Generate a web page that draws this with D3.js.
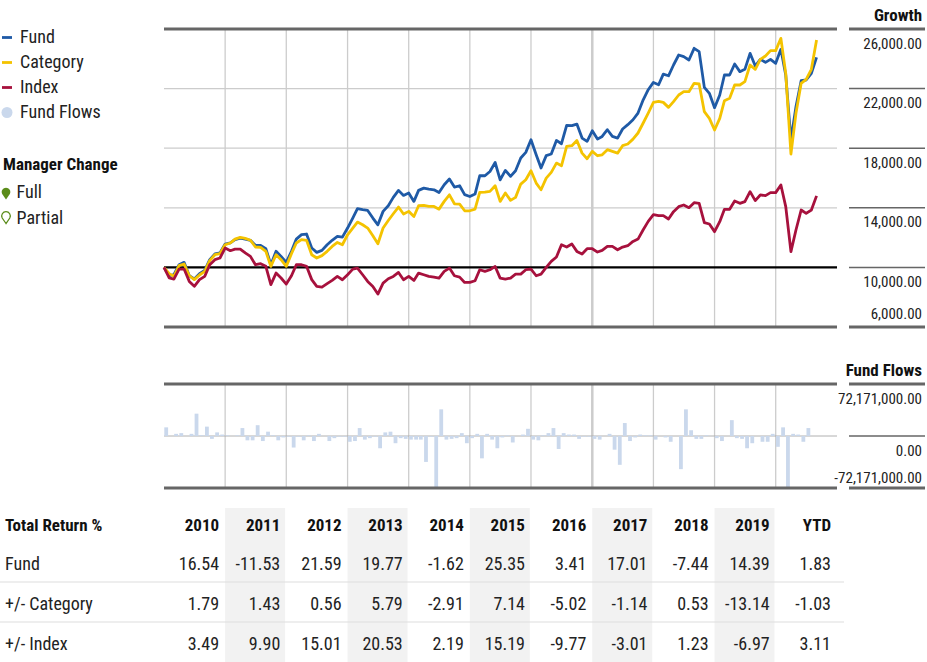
<!DOCTYPE html>
<html><head><meta charset="utf-8">
<script src="https://cdn.jsdelivr.net/npm/d3@7"></script>
<style>
body{margin:0;background:#fff;}
svg{display:block;font-family:"Liberation Sans Narrow","Arial Narrow","Roboto Condensed",Roboto,sans-serif;}
</style></head><body>
<svg id="c" width="927" height="662"></svg>
<script>
// ---------- DATA ----------
const startYear = 2010; // first monthly point = Jan 2010
const fundGrowth = [
10000,9440,9510,10180,10340,9440,9220,9580,9800,10520,10900,10970,
11570,11640,11860,11970,11900,11820,11480,11480,11260,10180,11080,10740,
10340,11080,11900,12200,12240,11300,11010,11140,11520,11820,12080,12030,
12640,13310,13940,13870,13820,13310,12860,13760,14140,14700,15170,14830,
14990,14430,15170,15320,15250,15210,15030,15550,15930,15390,15480,14880,
14760,14920,16150,16150,16440,17040,15880,16510,16110,16490,17340,17720,
18570,17560,16670,17500,17610,18520,18300,19530,19510,19620,18680,18460,
19170,18610,18790,19240,18790,18680,19285,19580,19910,20360,21250,21925,
22415,22260,22975,22860,23584,24255,24143,23920,24703,24479,22085,21683,
20721,21571,22913,22913,23651,23137,23293,24367,23517,23964,23763,23964,
23696,24636,22913,18551,20788,22533,22578,23025,24099];
const categoryGrowth = [
10000,9580,9400,10120,10230,9440,9180,9490,9735,10450,10850,10920,
11520,11640,11900,12020,11950,11820,11370,11350,11080,10070,10850,10520,
10070,10920,11640,11860,11820,10850,10630,10790,11080,11410,11676,11520,
12190,12640,13040,12860,12640,12120,11590,12640,13150,13600,14050,13580,
13760,13420,14140,14160,14090,14090,13910,14430,14870,14270,14250,13800,
13800,13910,15030,15050,15100,15480,14430,14990,14500,14700,15590,15885,
16490,15660,15210,15995,16380,17000,16820,18120,18170,18520,17670,17290,
17785,17495,17560,17900,17785,17670,18170,18280,18610,19020,19690,20360,
21075,21140,21075,20740,21123,21571,21795,21795,22354,22309,20452,20005,
19222,20005,21191,21347,22242,22242,22466,23584,23293,23964,24188,24546,
24546,25374,23025,17612,20341,22354,22622,23293,25262];
const indexGrowth = [
10000,9290,9220,9890,9890,9060,8730,9180,9400,10180,10520,10630,
11300,11120,11230,11230,10970,10740,10180,10250,10070,8840,9620,9290,
8880,9440,10180,10180,10070,9180,8730,8680,8910,9130,9394,9170,
9506,9886,9953,9506,9058,8723,8208,8946,9237,9394,9663,9170,
9394,9125,9618,9506,9394,9349,9282,9730,9953,9439,9349,8991,
8991,9103,9841,9730,9841,10065,9282,9220,9285,9550,9550,9845,
9890,9440,9550,10000,10400,10695,11520,11365,11570,11075,10895,11255,
11255,11030,11140,11410,11410,11185,11365,11455,11745,11900,12530,13090,
13535,13470,13470,13245,13741,14077,14189,14010,14346,14301,13003,12914,
12399,13070,13898,13898,14457,14301,14413,15084,14480,14860,14815,15017,
15017,15531,14077,11057,12511,13853,13630,13853,14800];
// monthly fund flows, millions
const fundFlows = [
12,0,3,4,0,3,31,1,13,-4,5,2,
1,0,1,11,-6,-6,15,-7,6,1,-6,-2,
-1,-16,-1,-6,1,-7,3,0,-7,-3,-1,-1,
-8,-7,11,-5,-3,-1,-17,5,6,-10,-3,-4,
-5,-5,-5,-36,-1,-71,37,-5,-4,-3,4,-10,
-3,3,-31,3,-5,-17,-2,1,-9,0,2,10,
-5,-6,1,4,11,-18,4,2,2,-4,-1,-1,
-4,-5,0,3,-19,-40,18,-7,-2,2,1,1,
-5,0,-2,-8,0,-46,37,8,-4,-4,1,0,
-3,-7,0,22,-3,-4,-17,-10,0,-8,-8,3,
-15,12,-72,3,2,-8,11,0,0];
const growthTicks = [26000,22000,18000,14000,10000,6000];
const flowTicks = [72171000,0,-72171000];
const legendItems = ["Fund","Category","Index","Fund Flows"];
const tableYears = ["2010","2011","2012","2013","2014","2015","2016","2017","2018","2019","YTD"];
const fundReturns = ["16.54","-11.53","21.59","19.77","-1.62","25.35","3.41","17.01","-7.44","14.39","1.83"];
const categoryDiff = ["1.79","1.43","0.56","5.79","-2.91","7.14","-5.02","-1.14","0.53","-13.14","-1.03"];
const indexDiff = ["3.49","9.90","15.01","20.53","2.19","15.19","-9.77","-3.01","1.23","-6.97","3.11"];

// ---------- STYLE ----------
const C = {fund:"#1f5aa6", cat:"#f4c300", idx:"#a7113d", flow:"#cad8ec", grid:"#cccccc", dark:"#666666", text:"#222", green:"#5b8c1a"};
const svg = d3.select("#c");
const L = 164, R = 837;
const x = d3.scaleTime().domain([new Date(startYear,0,1), new Date(2021,0,1)]).range([L,R]);
const y = d3.scaleLinear().domain([6000,26000]).range([327,29]);
const yF = d3.scaleLinear().domain([-72171000,72171000]).range([488,384]);
const mDate = i => new Date(startYear, i, 1);
const yearBounds = d3.range(2011, 2021).map(yr => new Date(yr,0,1));

// ---------- GROWTH CHART ----------
const g = svg.append("g");
g.selectAll(".vg").data(yearBounds).join("line")
  .attr("x1",d=>x(d)).attr("x2",d=>x(d)).attr("y1",y(26000)).attr("y2",y(6000))
  .attr("stroke",C.grid).attr("stroke-width",d=>d.getFullYear()===2017?2.5:1.3);
g.selectAll(".hg").data([22000,18000,14000]).join("line")
  .attr("x1",L).attr("x2",R).attr("y1",d=>y(d)).attr("y2",d=>y(d))
  .attr("stroke",C.grid).attr("stroke-width",1.3);
g.selectAll(".bd").data([26000,6000]).join("line")
  .attr("x1",L).attr("x2",R).attr("y1",d=>y(d)).attr("y2",d=>y(d))
  .attr("stroke",C.dark).attr("stroke-width",3);
g.append("line").attr("x1",L).attr("x2",R).attr("y1",y(10000)).attr("y2",y(10000))
  .attr("stroke","#000").attr("stroke-width",2.2);

const line = d3.line().x((d,i)=>x(mDate(i))).y(d=>y(d));
[[fundGrowth,C.fund],[categoryGrowth,C.cat],[indexGrowth,C.idx]].forEach(([data,col])=>{
  g.append("path").datum(data).attr("d",line).attr("fill","none")
   .attr("stroke",col).attr("stroke-width",2.8).attr("stroke-linejoin","round");
});

const ax = svg.append("g");
ax.selectAll("line").data(growthTicks).join("line")
  .attr("x1",849).attr("x2",925).attr("y1",d=>y(d)).attr("y2",d=>y(d))
  .attr("stroke",C.dark).attr("stroke-width",d=>(d===26000||d===6000)?3:1.5);
ax.selectAll("text").data(growthTicks).join("text")
  .attr("x",922).attr("y",d=>d===6000? y(d)-8.5 : y(d)+19.5)
  .attr("text-anchor","end").attr("font-size",15).attr("fill",C.text)
  .text(d=>d3.format(",.2f")(d));
svg.append("text").attr("x",922).attr("y",20.5).attr("text-anchor","end")
  .attr("font-size",17).attr("font-weight","bold").attr("fill","#111").text("Growth");

// ---------- FUND FLOWS ----------
const f = svg.append("g");
f.selectAll(".vg").data(yearBounds).join("line")
  .attr("x1",d=>x(d)).attr("x2",d=>x(d)).attr("y1",yF(72171000)).attr("y2",yF(-72171000))
  .attr("stroke",C.grid).attr("stroke-width",d=>d.getFullYear()===2017?2.5:1.3);
f.append("line").attr("x1",L).attr("x2",R).attr("y1",yF(0)).attr("y2",yF(0))
  .attr("stroke","#b0b0b0").attr("stroke-width",1);
f.selectAll("rect").data(fundFlows).join("rect")
  .attr("x",(d,i)=>x(mDate(i))+0.3).attr("width",3.8)
  .attr("y",d=>yF(Math.max(0,d*1e6))).attr("height",d=>Math.abs(yF(d*1e6)-yF(0)))
  .attr("fill",C.flow);
f.selectAll(".bd").data([72171000,-72171000]).join("line")
  .attr("x1",L).attr("x2",R).attr("y1",d=>yF(d)).attr("y2",d=>yF(d))
  .attr("stroke",C.dark).attr("stroke-width",3);
const fa = svg.append("g");
fa.selectAll("line").data(flowTicks).join("line")
  .attr("x1",849).attr("x2",925).attr("y1",d=>yF(d)).attr("y2",d=>yF(d))
  .attr("stroke",C.dark).attr("stroke-width",d=>d===0?1.5:3);
fa.selectAll("text").data(flowTicks).join("text")
  .attr("x",922).attr("y",d=>d<0? yF(d)-5 : yF(d)+19.5)
  .attr("text-anchor","end").attr("font-size",15).attr("fill",C.text)
  .text(d=>d3.format(",.2f")(d).replace("−","-"));
svg.append("text").attr("x",922).attr("y",376).attr("text-anchor","end")
  .attr("font-size",17).attr("font-weight","bold").attr("fill","#111").text("Fund Flows");

// ---------- LEGEND ----------
const lg = svg.append("g");
const legCols = [C.fund,C.cat,C.idx,C.flow];
legendItems.forEach((t,i)=>{
  const yy = 43 + i*25;
  if(i<3) lg.append("line").attr("x1",2).attr("x2",12).attr("y1",yy-5.5).attr("y2",yy-5.5)
    .attr("stroke",legCols[i]).attr("stroke-width",2.8);
  else lg.append("circle").attr("cx",7).attr("cy",yy-5.5).attr("r",5.5).attr("fill",legCols[i]);
  lg.append("text").attr("x",20).attr("y",yy).attr("font-size",18).attr("fill",C.text).text(t);
});
lg.append("text").attr("x",3).attr("y",169.5).attr("font-size",17).attr("font-weight","bold")
  .attr("fill","#111").text("Manager Change");
const pin = (cx,tip) => { const cy = tip-7.5; return `M${cx},${tip} L${cx-3.8},${cy+2} A4.3,4.3 0 1,1 ${cx+3.8},${cy+2} Z`; };
lg.append("path").attr("d",pin(6,199.5)).attr("fill",C.green);
lg.append("text").attr("x",16.5).attr("y",198).attr("font-size",18).attr("fill",C.text).text("Full");
lg.append("path").attr("d",pin(6,223.5)).attr("fill","#fff").attr("stroke",C.green).attr("stroke-width",1.3);
lg.append("text").attr("x",16.5).attr("y",224).attr("font-size",18).attr("fill",C.text).text("Partial");

// ---------- TABLE ----------
const t = svg.append("g");
const colStart = i => x(new Date(startYear+i,0,1));
const colEnd = i => x(new Date(startYear+i+1,0,1));
tableYears.forEach((yr,i)=>{
  if(i%2===1) t.append("rect").attr("x",colStart(i)).attr("width",colEnd(i)-colStart(i)-1.2)
     .attr("y",508).attr("height",154).attr("fill","#f2f2f2");
});
t.selectAll(".sep").data([582,622]).join("line")
  .attr("x1",0).attr("x2",844).attr("y1",d=>d).attr("y2",d=>d)
  .attr("stroke","#dddddd").attr("stroke-width",1.2);
t.append("text").attr("x",5).attr("y",531).attr("font-size",17).attr("font-weight","bold")
  .attr("fill","#111").text("Total Return %");
tableYears.forEach((yr,i)=>{
  t.append("text").attr("x",colEnd(i)-6).attr("y",531).attr("text-anchor","end")
   .attr("font-size",17).attr("font-weight","bold").attr("fill","#111").text(yr);
});
const rows = [["Fund",fundReturns,569.5],["+/- Category",categoryDiff,609.5],["+/- Index",indexDiff,649.5]];
rows.forEach(([lab,vals,yy])=>{
  t.append("text").attr("x",5).attr("y",yy).attr("font-size",18).attr("fill",C.text).text(lab);
  vals.forEach((v,i)=>{
    t.append("text").attr("x",colEnd(i)-6).attr("y",yy).attr("text-anchor","end")
     .attr("font-size",18).attr("fill",C.text).text(v);
  });
});
</script></body></html>
